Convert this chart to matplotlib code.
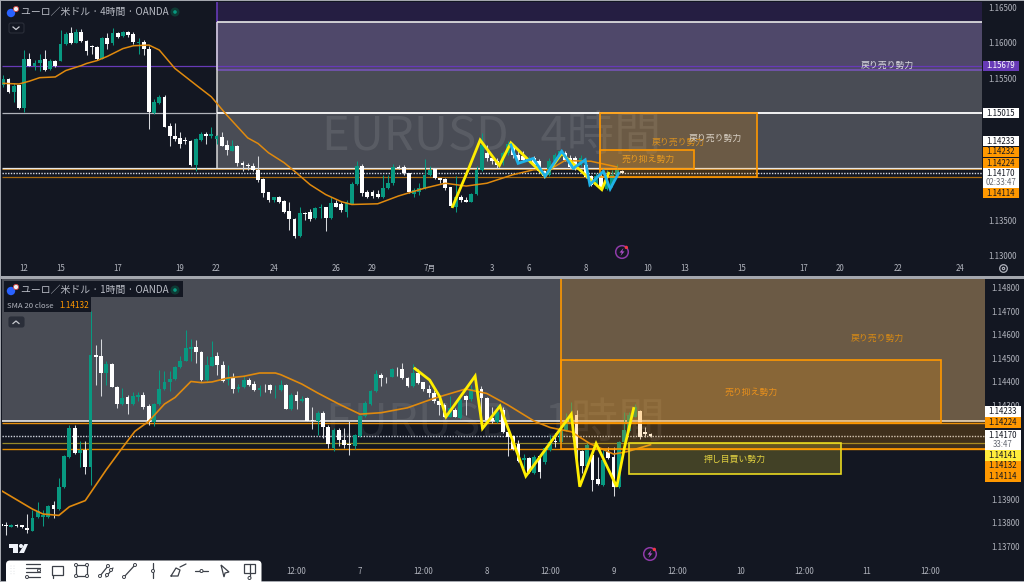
import matplotlib
matplotlib.use("Agg")
import matplotlib.pyplot as plt
from matplotlib.patches import Rectangle, FancyBboxPatch, Circle, Polygon

plt.rcParams['font.family'] = ['Noto Sans CJK JP', 'DejaVu Sans']

W, H = 1024, 582
BG = '#131722'
GREEN = '#089981'
ORANGE = '#ff9800'
PURPLE = '#673ab7'
YELLOW = '#ffeb3b'
AXTXT = '#b2b5be'

# ---------------- 4H pane data ----------------
top_open = [1.1541,1.1549,1.1531,1.1540,1.1508,1.1578,1.1568,1.1571,1.1577,1.1563,
 1.1575,1.1575,1.1599,1.1614,1.1600,1.1616,1.1603,1.1595,1.1594,1.1578,
 1.1607,1.1600,1.1614,1.1610,1.1615,1.1613,1.1600,1.1602,1.1592,1.1501,
 1.1515,1.1523,1.1483,1.1469,1.1466,1.1463,1.1462,1.1428,1.1463,1.1471,
 1.1468,1.1464,1.1467,1.1456,1.1448,1.1455,1.1431,1.1428,1.1427,1.1421,
 1.1408,1.1389,1.1378,1.1383,1.1377,1.1363,1.1352,1.1328,1.1360,1.1362,
 1.1353,1.1367,1.1368,1.1353,1.1374,1.1372,1.1361,1.1373,1.1401,1.1426,
 1.1389,1.1389,1.1387,1.1382,1.1395,1.1402,1.1425,1.1425,1.1416,1.1387,
 1.1390,1.1395,1.1414,1.1422,1.1409,1.1408,1.1396,1.1369,1.1382,1.1379,
 1.1376,1.1387,1.1420,1.1444,1.1437,1.1434,1.1430,1.1444,1.1456,1.1442,
 1.1440,1.1433,1.1437,1.1433,1.1419,1.1414,1.1433,1.1442,1.1444,1.1437,
 1.1437,1.1428,1.1428,1.1412,1.1400,1.1412,1.1394,1.1400,1.1413,1.1419]
top_high = [1.1555,1.1550,1.1543,1.1541,1.1590,1.1586,1.1576,1.1585,1.1590,1.1578,
 1.1576,1.1618,1.1616,1.1622,1.1619,1.1619,1.1604,1.1597,1.1596,1.1608,
 1.1614,1.1621,1.1616,1.1617,1.1617,1.1615,1.1607,1.1604,1.1595,1.1521,
 1.1527,1.1527,1.1487,1.1487,1.1474,1.1467,1.1463,1.1466,1.1475,1.1475,
 1.1481,1.1470,1.1475,1.1463,1.1463,1.1456,1.1433,1.1431,1.1430,1.1440,
 1.1409,1.1390,1.1383,1.1384,1.1378,1.1376,1.1353,1.1368,1.1362,1.1365,
 1.1369,1.1372,1.1369,1.1383,1.1379,1.1376,1.1379,1.1404,1.1433,1.1429,
 1.1393,1.1392,1.1393,1.1414,1.1414,1.1429,1.1428,1.1428,1.1417,1.1395,
 1.1402,1.1436,1.1426,1.1423,1.1410,1.1409,1.1397,1.1412,1.1386,1.1382,
 1.1388,1.1426,1.1473,1.1456,1.1442,1.1437,1.1447,1.1462,1.1458,1.1447,
 1.1447,1.1440,1.1440,1.1436,1.1421,1.1437,1.1444,1.1449,1.1447,1.1442,
 1.1441,1.1442,1.1431,1.1414,1.1416,1.1416,1.1421,1.1421,1.1429,1.1421]
top_low = [1.1538,1.1529,1.1517,1.1507,1.1503,1.1567,1.1562,1.1560,1.1560,1.1562,
 1.1566,1.1574,1.1597,1.1599,1.1600,1.1602,1.1583,1.1585,1.1576,1.1577,
 1.1592,1.1597,1.1607,1.1609,1.1609,1.1599,1.1585,1.1583,1.1478,1.1500,
 1.1514,1.1481,1.1454,1.1461,1.1452,1.1457,1.1427,1.1419,1.1462,1.1458,
 1.1466,1.1458,1.1454,1.1442,1.1447,1.1426,1.1419,1.1421,1.1419,1.1404,
 1.1383,1.1375,1.1376,1.1374,1.1360,1.1336,1.1325,1.1326,1.1350,1.1348,
 1.1352,1.1353,1.1334,1.1351,1.1368,1.1361,1.1354,1.1372,1.1400,1.1384,
 1.1381,1.1381,1.1381,1.1381,1.1394,1.1400,1.1422,1.1414,1.1388,1.1383,
 1.1386,1.1394,1.1412,1.1408,1.1402,1.1393,1.1368,1.1362,1.1376,1.1375,
 1.1375,1.1386,1.1419,1.1433,1.1429,1.1423,1.1428,1.1442,1.1437,1.1430,
 1.1434,1.1430,1.1426,1.1417,1.1409,1.1412,1.1431,1.1440,1.1433,1.1423,
 1.1421,1.1426,1.1409,1.1398,1.1398,1.1393,1.1393,1.1397,1.1411,1.1416]
top_close = [1.1549,1.1531,1.1539,1.1508,1.1578,1.1568,1.1572,1.1576,1.1562,1.1575,
 1.1567,1.1599,1.1613,1.1600,1.1616,1.1603,1.1589,1.1594,1.1578,1.1607,
 1.1599,1.1614,1.1608,1.1615,1.1611,1.1601,1.1602,1.1592,1.1502,1.1516,
 1.1523,1.1482,1.1469,1.1464,1.1457,1.1462,1.1428,1.1464,1.1472,1.1469,
 1.1471,1.1468,1.1455,1.1449,1.1455,1.1430,1.1428,1.1427,1.1421,1.1407,
 1.1388,1.1378,1.1382,1.1375,1.1362,1.1352,1.1328,1.1360,1.1358,1.1352,
 1.1367,1.1368,1.1353,1.1374,1.1369,1.1364,1.1375,1.1401,1.1426,1.1388,
 1.1383,1.1384,1.1382,1.1395,1.1402,1.1425,1.1423,1.1416,1.1389,1.1393,
 1.1395,1.1414,1.1421,1.1409,1.1407,1.1395,1.1370,1.1383,1.1378,1.1376,
 1.1387,1.1420,1.1456,1.1437,1.1433,1.1428,1.1444,1.1458,1.1442,1.1435,
 1.1435,1.1437,1.1428,1.1419,1.1412,1.1433,1.1442,1.1447,1.1435,1.1425,
 1.1423,1.1437,1.1411,1.1400,1.1412,1.1395,1.1409,1.1414,1.1421,1.1417]
top_sma_idx = [0,3,5,7,10,12,15,16,18,20,23,25,28,30,33,37,40,43,47,49,51,54,56,59,62,65,
 67,72,76,81,85,89,93,98,102,105,108,113,118]
top_sma_val = [1.1543,1.1542,1.1546,1.1551,1.1552,1.1561,1.1568,1.1571,1.1575,1.1581,1.1592,
 1.1596,1.1597,1.1590,1.1564,1.1541,1.1524,1.1498,1.1466,1.1458,1.1445,1.1431,1.1419,1.1400,
 1.1386,1.1376,1.1372,1.1373,1.1384,1.1395,1.1402,1.1398,1.1402,1.1414,1.1421,1.1421,1.1434,
 1.1433,1.1425]
top_yellow_idx = [86.4,89.4,91.7,95.4,97.6,104.2,107.4,111.9,115.1,116.4]
top_yellow_val = [1.1369,1.1421,1.1463,1.1427,1.1459,1.1412,1.1444,1.1414,1.1393,1.1416]
top_blue_idx = [97.6,99,101.9,104.2,107.4,109.6,111.9,112.8,115.4,116.7,118.3]
top_blue_val = [1.1456,1.1430,1.1437,1.1412,1.1447,1.1423,1.1435,1.1400,1.1419,1.1394,1.1416]
top_tick_idx = [4,11,22,34,41,52,64,71,82,94,101,112,124,131,142,154,161,172,184]
top_tick_lab = ['12','15','17','19','22','24','26','29','7月','3','6','8','10','13','15','17','20','22','24']
top_price_ticks = [1.165,1.16,1.155,1.135,1.13]

# ---------------- 1H pane data ----------------
bot_open = [1.13795,1.13792,1.13783,1.13792,1.13789,1.13778,1.13766,1.13823,1.13826,1.13824,1.13874,
 1.13860,1.13950,1.14080,1.14203,1.14097,1.14109,1.14036,1.14512,1.14509,1.14437,1.14475,
 1.14379,1.14305,1.14333,1.14305,1.14333,1.14342,1.14295,1.14228,1.14306,1.14369,1.14399,
 1.14411,1.14461,1.14489,1.14540,1.14547,1.14526,1.14408,1.14468,1.14508,1.14469,1.14406,
 1.14416,1.14369,1.14376,1.14407,1.14390,1.14365,1.14383,1.14384,1.14363,1.14366,1.14387,
 1.14285,1.14342,1.14316,1.14331,1.14238,1.14231,1.14268,1.14207,1.14118,1.14196,
 1.14154,1.14135,1.14126,1.14169,1.14254,1.14305,1.14361,1.14430,1.14413,1.14421,1.14456,
 1.14454,1.14417,1.14383,1.14439,1.14397,1.14369,1.14354,1.14319,1.14301,1.14251,1.14279,
 1.14244,1.14340,1.14325,1.14364,1.14367,1.14332,1.14247,1.14230,1.14279,1.14187,1.14169,
 1.14137,1.14067,1.14076,1.14010,1.14084,1.14057,1.14109,1.14147,1.14145,1.14194,1.14230,
 1.14258,1.14106,1.14041,1.14088,1.13984,1.13960,1.14102,1.14081,1.13950,1.14145,1.14191,
 1.14251,1.14276,1.14187,1.14179]
bot_high = [1.13802,1.13802,1.13796,1.13795,1.13792,1.13837,1.13855,1.13888,1.13855,1.13877,1.13891,
 1.13990,1.14089,1.14214,1.14217,1.14146,1.14146,1.14699,1.14555,1.14583,1.14487,1.14479,
 1.14380,1.14373,1.14345,1.14356,1.14356,1.14356,1.14305,1.14309,1.14451,1.14447,1.14444,
 1.14465,1.14508,1.14621,1.14583,1.14579,1.14529,1.14508,1.14572,1.14526,1.14487,1.14469,
 1.14437,1.14390,1.14423,1.14416,1.14401,1.14387,1.14390,1.14390,1.14387,1.14408,1.14390,
 1.14352,1.14359,1.14338,1.14333,1.14291,1.14277,1.14277,1.14217,1.14203,1.14203,
 1.14201,1.14232,1.14177,1.14258,1.14319,1.14364,1.14449,1.14435,1.14421,1.14458,1.14464,
 1.14481,1.14421,1.14475,1.14456,1.14400,1.14386,1.14364,1.14329,1.14308,1.14339,1.14286,
 1.14333,1.14343,1.14386,1.14378,1.14381,1.14336,1.14293,1.14301,1.14293,1.14194,1.14173,
 1.14154,1.14091,1.14081,1.14088,1.14088,1.14123,1.14173,1.14183,1.14201,1.14265,1.14315,
 1.14279,1.14109,1.14140,1.14095,1.14078,1.14109,1.14123,1.14123,1.14147,1.14272,1.14272,
 1.14303,1.14279,1.14208,1.14183]
bot_low = [1.13780,1.13746,1.13780,1.13780,1.13778,1.13756,1.13763,1.13820,1.13785,1.13820,1.13820,
 1.13855,1.13948,1.14075,1.14094,1.14036,1.14007,1.13959,1.14387,1.14338,1.14387,1.14376,
 1.14288,1.14299,1.14262,1.14302,1.14316,1.14285,1.14217,1.14210,1.14302,1.14365,1.14359,
 1.14408,1.14458,1.14487,1.14487,1.14479,1.14404,1.14404,1.14465,1.14430,1.14399,1.14387,
 1.14352,1.14356,1.14373,1.14380,1.14359,1.14338,1.14356,1.14352,1.14331,1.14359,1.14282,
 1.14281,1.14285,1.14313,1.14231,1.14200,1.14175,1.14160,1.14118,1.14104,1.14125,
 1.14116,1.14088,1.14112,1.14166,1.14251,1.14301,1.14357,1.14381,1.14396,1.14418,1.14424,
 1.14410,1.14378,1.14378,1.14390,1.14361,1.14336,1.14308,1.14258,1.14248,1.14248,1.14248,
 1.14240,1.14258,1.14319,1.14357,1.14201,1.14230,1.14223,1.14225,1.14180,1.14084,1.14109,
 1.14059,1.14031,1.14010,1.14006,1.13989,1.14050,1.14106,1.14123,1.14140,1.14191,1.14225,
 1.14010,1.14010,1.14031,1.13936,1.13960,1.13957,1.14069,1.13915,1.13946,1.14137,1.14187,
 1.14248,1.14156,1.14163,1.14166]
bot_close = [1.13785,1.13785,1.13792,1.13785,1.13780,1.13770,1.13820,1.13848,1.13831,1.13870,1.13860,
 1.13950,1.14082,1.14203,1.14097,1.14111,1.14038,1.14515,1.14506,1.14437,1.14475,1.14379,
 1.14306,1.14331,1.14306,1.14338,1.14342,1.14291,1.14228,1.14306,1.14369,1.14399,1.14411,
 1.14461,1.14489,1.14543,1.14546,1.14526,1.14408,1.14469,1.14504,1.14469,1.14404,1.14416,
 1.14370,1.14379,1.14407,1.14387,1.14365,1.14373,1.14380,1.14366,1.14366,1.14384,1.14285,
 1.14342,1.14316,1.14328,1.14234,1.14234,1.14268,1.14207,1.14135,1.14196,1.14153,
 1.14130,1.14129,1.14173,1.14254,1.14308,1.14360,1.14432,1.14414,1.14410,1.14454,1.14452,
 1.14414,1.14383,1.14439,1.14393,1.14367,1.14354,1.14318,1.14301,1.14251,1.14286,1.14251,
 1.14322,1.14322,1.14367,1.14371,1.14332,1.14237,1.14234,1.14272,1.14184,1.14166,1.14112,
 1.14064,1.14074,1.14014,1.14081,1.14017,1.14116,1.14145,1.14143,1.14194,1.14230,1.14254,
 1.14120,1.14041,1.14130,1.13981,1.13963,1.14067,1.14074,1.13953,1.14145,1.14194,1.14258,
 1.14293,1.14166,1.14179,1.14170]
bot_sma_idx = [-1,2,5,7,10,12,15,19,22,24.4,27,30,32,35,37,39,42,45,48,51,52,56,59,63,
 67,71,76,81,87,91,95,100,103,107,110.5,115,117.5,122]
bot_sma_val = [1.13938,1.13898,1.13858,1.13837,1.13831,1.13868,1.13894,1.14026,1.14118,1.14189,
 1.14231,1.14305,1.14333,1.14401,1.14396,1.14399,1.14416,1.14423,1.14437,1.14437,1.14430,
 1.14390,1.14352,1.14305,1.14262,1.14268,1.14289,1.14329,1.14369,1.14350,1.14301,1.14232,
 1.14205,1.14187,1.14137,1.14092,1.14102,1.14132]
bot_yellow_idx = [77.4,80.2,82.1,83.3,88.8,90.2,93.5,94.7,98.4,107.0,108.6,111.7,115.6,117.1,118.8]
bot_yellow_val = [1.14456,1.14407,1.14336,1.14251,1.14424,1.14201,1.14296,1.14222,1.13998,
 1.14262,1.13953,1.14137,1.13953,1.14123,1.14286]
bot_tick_idx = [55,67,79,91,103,115,127,139,151,163,175]
bot_tick_lab = ['12:00','7','12:00','8','12:00','9','12:00','10','12:00','11','12:00']
bot_price_ticks = [1.148,1.147,1.146,1.145,1.144,1.143,1.139,1.138,1.137]

# ---------------- levels ----------------
LAST = 1.14170
L_233, L_224, L_114, L_015 = 1.14233, 1.14224, 1.14114, 1.15015
L_679, L_141 = 1.15679, 1.14141
TOP_GRAY_HI, TOP_PURP_LO = 1.16295, 1.15618
TOP_BOX_HI = 1.14489
BOT_BOX_HI, BOT_YEL_LO = 1.14492, 1.14007

LAB = 6.4     # Japanese annotation size
NUM = 5.7     # price and time scale size


def pane(x0, y0, x1, y1):
    a = fig.add_axes([x0 / W, 1 - y1 / H, (x1 - x0) / W, (y1 - y0) / H])
    a.set_facecolor(BG)
    for s in a.spines.values():
        s.set_visible(False)
    a.yaxis.tick_right()
    a.tick_params(axis='both', length=0, labelcolor=AXTXT, labelsize=NUM)
    return a


def candles(a, o, h, l, c, first):
    for k in range(len(o)):
        i = k + first
        up = c[k] >= o[k]
        col = GREEN if up else '#ffffff'
        a.vlines(i, l[k], h[k], color=col if up else '#d6d8dc', lw=0.75, zorder=3)
        a.bar(i, abs(c[k] - o[k]), bottom=min(o[k], c[k]), width=0.72, color=col, lw=0, zorder=3.2)


def box(a, x0, x1, p0, p1, fc, alpha, ec=None, lw=1.2, z=4):
    a.add_patch(Rectangle((x0, p0), x1 - x0, p1 - p0, fc=fc, alpha=alpha, lw=0, zorder=z))
    if ec:
        a.add_patch(Rectangle((x0, p0), x1 - x0, p1 - p0, fc='none', ec=ec, lw=lw, zorder=z + 0.1))


fig = plt.figure(figsize=(W / 100, H / 100), dpi=100, facecolor=BG)

# ================ TOP PANE ================
ax = pane(2, 2, 982, 259)
xa, xb = (2 - 3.3) / 5.2, (982 - 3.3) / 5.2
ax.set_xlim(xa, xb)
ax.set_ylim(1.165 - (259 - 7.5) / 7086, 1.165 + (7.5 - 2) / 7086)
box(ax, 41, xb, L_233, TOP_GRAY_HI, '#ffffff', 0.23, z=1)
box(ax, 41, xb, TOP_PURP_LO, ax.get_ylim()[1], PURPLE, 0.22, z=1.1)
ax.vlines(41, TOP_PURP_LO, ax.get_ylim()[1], color=PURPLE, lw=1.2, zorder=2)
ax.hlines(L_679, xa, xb, color=PURPLE, lw=0.9, zorder=2)
ax.hlines(TOP_PURP_LO, 41, xb, color='#7a55c0', lw=1.1, zorder=2)
ax.hlines(TOP_GRAY_HI, 41, xb, color='#e8e8e8', lw=1.2, zorder=2)
ax.vlines(41, L_233, TOP_GRAY_HI, color='#d8d8d8', lw=1.1, zorder=2)
ax.hlines(L_015, xa, 41, color='#b0b3ba', lw=0.9, zorder=2)
ax.hlines(L_015, 41, xb, color='#ffffff', lw=1.3, zorder=2)
ax.hlines(L_233, xa, xb, color='#e8e8e8', lw=0.9, zorder=2)
ax.hlines(L_224, xa, xb, color='#ffb74d', lw=0.5, zorder=2)
ax.hlines(L_114, xa, xb, color='#a86a10', lw=0.9, zorder=2)
ax.hlines(LAST, xa, xb, color='#d8dce6', lw=1.0, ls=(0, (1, 1)), zorder=2)
candles(ax, top_open, top_high, top_low, top_close, 0)
ax.plot(top_sma_idx, top_sma_val, color='#e08a0e', lw=1.1, zorder=3.5)
ax.plot(top_yellow_idx, top_yellow_val, color='#ffee00', lw=2, zorder=5, solid_joinstyle='miter')
ax.plot(top_blue_idx, top_blue_val, color='#1fb2e8', lw=2, zorder=5.1, solid_joinstyle='miter')
box(ax, 114.8, 144.9, L_114, L_015, ORANGE, 0.19, ec=ORANGE)
box(ax, 114.8, 132.8, L_224, TOP_BOX_HI, ORANGE, 0.2, ec=ORANGE)
ax.text(129.8, 1.1460, '戻り売り勢力', color='#d89020', fontsize=LAB, ha='center', va='center', zorder=6)
ax.text(136.9, 1.14655, '戻り売り勢力', color='#d8d0c4', fontsize=LAB, ha='center', va='center', zorder=6)
ax.text(124, 1.1436, '売り抑え勢力', color='#e89a20', fontsize=LAB, ha='center', va='center', zorder=6)
ax.text(170, L_679, '戻り売り勢力', color='#d8d8de', fontsize=LAB, ha='center', va='center', zorder=6)
ax.text(94, 1.1468, 'EURUSD   4時間', color='#ffffff', alpha=0.09, fontsize=34, ha='center', va='center', zorder=1.5)
ax.set_xticks(top_tick_idx, top_tick_lab)
ax.set_yticks(top_price_ticks, [f'{v:.5f}' for v in top_price_ticks])
ax.tick_params(axis='x', pad=3.5)
ax.tick_params(axis='y', pad=4.3)

# ================ BOTTOM PANE ================
bx = pane(2, 279, 985, 562)
xa2, xb2 = (2 - 6) / 5.283, (985 - 6) / 5.283
bx.set_xlim(xa2, xb2)
bx.set_ylim(1.148 - (562 - 287.7) / 23500, 1.148 + (287.7 - 279) / 23500)
yt = bx.get_ylim()[1]
box(bx, xa2, xb2, L_233, yt, '#ffffff', 0.23, z=1)
bx.hlines(L_233, xa2, xb2, color='#e8e8e8', lw=1.2, zorder=2)
bx.hlines(L_224, xa2, xb2, color='#e8900c', lw=1.0, zorder=2)
bx.hlines(L_141, xa2, xb2, color='#96892a', lw=0.9, zorder=2)
bx.hlines(L_114, xa2, xb2, color='#e08a00', lw=1.0, zorder=2)
bx.hlines(LAST, xa2, xb2, color='#cfd3dc', lw=1.0, ls=(0, (1, 1)), zorder=2)
candles(bx, bot_open, bot_high, bot_low, bot_close, -1)
bx.plot(bot_sma_idx, bot_sma_val, color='#e08a0e', lw=1.2, zorder=3.5)
bx.plot(bot_yellow_idx, bot_yellow_val, color='#ffee00', lw=2, zorder=5, solid_joinstyle='miter')
box(bx, 105, xb2 + 2, L_114, yt + 0.001, ORANGE, 0.19, ec=ORANGE)
box(bx, 105, 177, L_224, BOT_BOX_HI, ORANGE, 0.2, ec=ORANGE)
box(bx, 118, 158, BOT_YEL_LO, L_141, YELLOW, 0.2, ec='#e8d820')
bx.text(165, 1.14585, '戻り売り勢力', color='#d88a14', fontsize=LAB, ha='center', va='center', zorder=6)
bx.text(141, 1.14355, '売り抑え勢力', color='#e8901c', fontsize=LAB, ha='center', va='center', zorder=6)
bx.text(138, 1.14068, '押し目買い勢力', color='#e0d040', fontsize=LAB, ha='center', va='center', zorder=6)
bx.text(92.6, 1.1422, 'EURUSD   1時間', color='#ffffff', alpha=0.08, fontsize=34, ha='center', va='center', zorder=1.5)
bx.set_xticks(bot_tick_idx, bot_tick_lab)
bx.set_yticks(bot_price_ticks, [f'{v:.5f}' for v in bot_price_ticks])
bx.tick_params(axis='x', pad=3.5)
bx.tick_params(axis='y', pad=4.3)

# ================ OVERLAY (chrome) ================
ov = fig.add_axes([0, 0, 1, 1], zorder=20)
ov.set_xlim(0, W)
ov.set_ylim(H, 0)
ov.axis('off')
ov.patch.set_alpha(0)

EDGE = '#a4a7ae'
for (x0, y0, x1, y1) in [(0, 0, W, 1.3), (0, 276, W, 278.5), (0, 0, 1.3, H), (0, 580.5, W, H)]:
    ov.add_patch(Rectangle((x0, y0), x1 - x0, y1 - y0, fc=EDGE, lw=0, zorder=1))


def label(x0, x1, yc, txt, fc, tc, h=10.6):
    ov.add_patch(Rectangle((x0, yc - h / 2), x1 - x0, h, fc=fc, lw=0, zorder=2))
    ov.text((x0 + x1) / 2, yc, txt, color=tc, fontsize=NUM, ha='center', va='center', zorder=3)


for yc, t, fc, tc in [(66, '1.15679', PURPLE, '#ffffff'), (113, '1.15015', '#ffffff', '#131722'),
                      (141, '1.14233', '#ffffff', '#131722'), (152, '1.14232', ORANGE, '#131722'),
                      (163, '1.14224', ORANGE, '#131722'), (173, '1.14170', '#ffffff', '#131722'),
                      (182.5, '02:33:47', '#ffffff', '#666a73'), (193, '1.14114', ORANGE, '#131722')]:
    label(983, 1019, yc, t, fc, tc)
for yc, t, fc, tc in [(411.7, '1.14233', '#ffffff', '#131722'), (422.7, '1.14224', ORANGE, '#131722'),
                      (435, '1.14170', '#ffffff', '#131722'), (444.5, '33:47', '#ffffff', '#666a73'),
                      (455.2, '1.14141', YELLOW, '#131722'), (465.8, '1.14132', ORANGE, '#131722'),
                      (476.7, '1.14114', ORANGE, '#131722')]:
    label(985, 1021, yc, t, fc, tc)

# legends
ov.add_patch(Rectangle((4, 281), 179, 16, fc=BG, lw=0, zorder=2))
ov.add_patch(Rectangle((4, 297), 87, 15, fc=BG, lw=0, zorder=2))
for yc, t in [(12, 'ユーロ／米ドル · 4時間 · OANDA'), (290, 'ユーロ／米ドル · 1時間 · OANDA')]:
    ov.text(21, yc, t, color='#b8bbc4', fontsize=7.1, ha='left', va='center', zorder=3)
    ov.add_patch(Circle((11, yc + 1), 4.2, fc='#2962ff', lw=0, zorder=3))
    ov.add_patch(Circle((16, yc - 3), 2.6, fc='#f0f0f0', ec='#d04040', lw=0.6, zorder=3.1))
    ov.add_patch(Circle((175, yc), 4.5, fc='#0e3a34', lw=0, zorder=3))
    ov.add_patch(Circle((175, yc), 1.8, fc=GREEN, lw=0, zorder=3.1))
ov.text(7, 306, 'SMA 20 close', color='#b2b5be', fontsize=5.6, va='center', zorder=3)
ov.text(59, 306, '1.14132', color=ORANGE, fontsize=5.9, va='center', zorder=3)

# collapse buttons
for yc, pts in [(28, [(13, 27), (16, 29.5), (19, 27)]), (322, [(13, 323.5), (16, 321), (19, 323.5)])]:
    ov.add_patch(FancyBboxPatch((9, yc - 5), 15, 10, boxstyle='round,pad=0,rounding_size=2',
                                fc='#2a2e39' if yc > 100 else BG, ec='#2a2e39', lw=0.8, zorder=2))
    ov.plot(*zip(*pts), color='#c8cad0', lw=0.9, zorder=3)

# lightning badges
for cx, cy in [(622, 252), (650, 554)]:
    ov.add_patch(Circle((cx, cy), 6.3, fc='none', ec='#8e3aa8', lw=1.1, zorder=3))
    ov.add_patch(Polygon([(cx + 1.5, cy - 4), (cx - 2.5, cy + .6), (cx - .2, cy + .6), (cx - 1.5, cy + 4),
                          (cx + 2.5, cy - .6), (cx + .2, cy - .6)], fc='#b04fc8', lw=0, zorder=3))
    ov.add_patch(Circle((cx + 4.3, cy - 4.6), 1.7, fc='#f23645', lw=0, zorder=3.1))

# settings icon
ov.add_patch(Circle((1003.5, 268.5), 3.8, fc='none', ec='#b2b5be', lw=0.9, zorder=3))
ov.add_patch(Circle((1003.5, 268.5), 1.2, fc='none', ec='#b2b5be', lw=0.8, zorder=3))

# TradingView mark
ov.add_patch(Polygon([(9, 544), (18, 544), (18, 553), (13, 553), (13, 548), (9, 548)], fc='#f0f3fa', lw=0, zorder=3))
ov.add_patch(Circle((21, 546), 2, fc='#f0f3fa', lw=0, zorder=3))
ov.add_patch(Polygon([(24.5, 544), (28, 544), (24, 553), (19, 553)], fc='#f0f3fa', lw=0, zorder=3))

# drawing toolbar
ov.add_patch(FancyBboxPatch((6, 560.5), 255.5, 24, boxstyle='round,pad=0,rounding_size=4',
                            fc='#ffffff', ec='none', zorder=4, clip_on=True))
ICON = '#3c4048'
def seg(*pts, lw=0.9):
    ov.plot(*zip(*pts), color=ICON, lw=lw, zorder=5, solid_capstyle='round')
def dot(x, y, r=1.5):
    ov.add_patch(Circle((x, y), r, fc='#ffffff', ec=ICON, lw=0.7, zorder=5.5))
for i in range(2):
    for j in range(4):
        ov.add_patch(Circle((11 + i * 3, 566 + j * 2.6), 0.4, fc='#c8cad0', lw=0, zorder=5))
for yy in (564, 568, 572, 577):
    seg((26, yy), (40, yy))
dot(39, 570.5); dot(27, 577)
ov.add_patch(Rectangle((52, 566), 11, 9, fc='none', ec=ICON, lw=0.9, zorder=5))
seg((53, 575), (53, 578))
ov.add_patch(Rectangle((76, 565), 11, 11, fc='none', ec=ICON, lw=0.9, zorder=5))
for x, y in [(76, 565), (87, 565), (76, 576), (87, 576)]:
    dot(x, y)
seg((100, 576), (108, 566)); seg((106, 577), (113, 568))
dot(100, 576); dot(108, 566); dot(107, 575); dot(111, 570)
seg((124, 577), (135, 565)); dot(124, 577); dot(135, 565)
seg((153, 563), (153, 578)); dot(153, 571)
seg((171, 576), (176, 568), (180, 570), (178, 576), (171, 576)); seg((180, 567), (186, 564))
seg((195, 571), (208, 571)); dot(201.5, 571)
ov.add_patch(Polygon([(221, 565), (229, 572), (225, 573), (224, 577)], fc='none', ec=ICON, lw=0.9, zorder=5))
ov.add_patch(Rectangle((244, 564), 11, 9, fc='none', ec=ICON, lw=0.9, zorder=5))
seg((249.5, 564), (249.5, 578)); dot(249.5, 578)

fig.savefig('out.png', dpi=100, facecolor=fig.get_facecolor())
